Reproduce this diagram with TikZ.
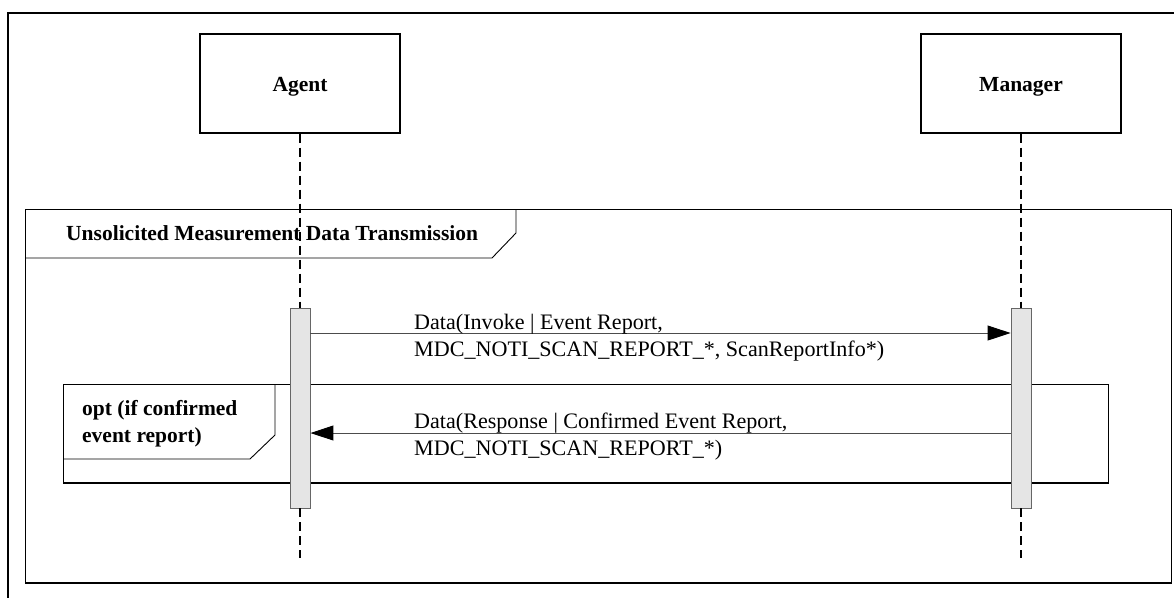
\documentclass[tikz,border=0pt]{standalone}
\usepackage{fontspec}
\setmainfont{Liberation Serif}
\usetikzlibrary{arrows.meta}
\begin{document}
\begin{tikzpicture}[x=1pt,y=-1pt,
  lifebox/.style={draw, line width=1.2pt, minimum width=200pt, minimum height=99pt,
    inner sep=0pt, text height=15pt, text depth=0pt,
    font=\bfseries\fontsize{21.5}{26}\selectfont},
  actbar/.style={draw=black!60, fill=black!10, line width=0.9pt,
    minimum width=20pt, minimum height=200pt, inner sep=0pt},
  lifeline/.style={line width=1.6pt, dash pattern=on 9pt off 5pt},
  msg/.style={draw=black!70, line width=1pt, -{Triangle[length=23pt,width=15pt,black]}},
  framebox/.style={line width=0.9pt},
  framebase/.style={line width=1.6pt},
  lbl/.style={anchor=base west, inner sep=0pt, font=\fontsize{22.1}{26}\selectfont},
  blbl/.style={anchor=base west, inner sep=0pt, font=\bfseries\fontsize{21.5}{26}\selectfont}
]
\useasboundingbox (0,0) rectangle (1174,597);
\clip (0,0) rectangle (1174,597);
% outer frame
\draw[line width=1.7pt] (8,13) rectangle (1190,612);
% combined fragment: Unsolicited Measurement Data Transmission
\draw[framebox] (25,209) rectangle (1171,583);
\draw[framebase] (25,583) -- (1171,583);
\draw[framebox] (25,258) -- (492,258) -- (516,233) -- (516,209);
\node[blbl] (ttl) at (66,240) {Unsolicited Measurement Data Transmission};
% combined fragment: opt
\draw[framebox] (63,384) rectangle (1108,483);
\draw[framebase] (63,483) -- (1108,483);
\draw[framebox] (63,459) -- (250,459) -- (275,435) -- (275,384);
\node[blbl] (opt1) at (82,415) {opt (if confirmed};
\node[blbl] (opt2) at (82,442) {event report)};
% lifelines
\node[lifebox] (agent) at (300,83.5) {Agent};
\node[lifebox] (manager) at (1021,83.5) {Manager};
\coordinate (aEnd) at (300,558);
\coordinate (mEnd) at (1021,558);
\node[actbar] (aBar) at (300,408) {};
\node[actbar] (mBar) at (1021,408) {};
\draw[lifeline] (agent.south) -- (aBar.north);
\draw[lifeline] (aBar.south) -- (aEnd);
\draw[lifeline] (manager.south) -- (mBar.north);
\draw[lifeline] (mBar.south) -- (mEnd);
% messages
\coordinate (m1) at (0,333);
\coordinate (m2) at (0,433);
\draw[msg] (aBar.east |- m1) -- (mBar.west |- m1);
\draw[msg] (mBar.west |- m2) -- (aBar.east |- m2);
\node[lbl] (l1a) at (414,329) {Data(Invoke | Event Report,};
\node[lbl] (l1b) at (414,356) {MDC\_NOTI\_SCAN\_REPORT\_*, ScanReportInfo*)};
\node[lbl] (l2a) at (414,428) {Data(Response | Confirmed Event Report,};
\node[lbl] (l2b) at (414,455) {MDC\_NOTI\_SCAN\_REPORT\_*)};
\end{tikzpicture}
\end{document}
